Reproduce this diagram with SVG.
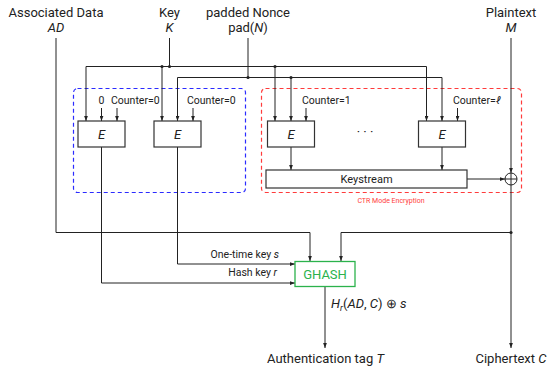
<svg xmlns="http://www.w3.org/2000/svg" width="550" height="366" viewBox="0 0 550 366">
<defs>
<marker id="arr" viewBox="0 0 8 6" refX="8" refY="3" markerWidth="5" markerHeight="4" markerUnits="userSpaceOnUse" orient="auto"><path d="M0,0 L8,3 L0,6 z" fill="#222"/></marker>
<style>
text{font-family:Roboto,"Liberation Sans",sans-serif;fill:#222}
.lbl{font-size:13px;text-anchor:middle}
.sm{font-size:10.5px}
.it{font-style:italic}
.w{fill:none;stroke:#222;stroke-width:1}
.a{marker-end:url(#arr)}
.box{fill:#fff;stroke:#333;stroke-width:1.2}
.dot{fill:#222}
</style>
</defs>
<rect width="550" height="366" fill="#fff"/>

<g id="regions">
<rect x="73.5" y="88.5" width="172" height="104" rx="4" fill="none" stroke="#2b2bff" stroke-width="1.2" stroke-dasharray="4,3"/>
<rect x="261.5" y="88.5" width="260" height="104" rx="4" fill="none" stroke="#ff3b3b" stroke-width="1.2" stroke-dasharray="4,3"/>
<text x="391" y="203" style="font-size:7px;fill:#ff3b3b" text-anchor="middle">CTR Mode Encryption</text>
</g>

<g id="inputs">
<text class="lbl" x="56" y="17">Associated Data</text>
<text class="lbl it" x="56" y="32">AD</text>
<text class="lbl" x="169.5" y="17">Key</text>
<text class="lbl it" x="169.5" y="32">K</text>
<text class="lbl" x="248" y="17">padded Nonce</text>
<text class="lbl" x="248" y="32">pad(<tspan class="it">N</tspan>)</text>
<text class="lbl" x="511" y="17">Plaintext</text>
<text class="lbl it" x="511" y="32">M</text>
</g>

<g id="connectors">
<!-- key bus -->
<path class="w" d="M169.5,38 V66.5"/>
<path class="w" d="M86,66.5 H426.5"/>
<path class="w a" d="M86,66.5 V121"/>
<path class="w a" d="M162,66.5 V121"/>
<path class="w a" d="M275,66.5 V121"/>
<path class="w a" d="M426.5,66.5 V121"/>
<!-- nonce bus -->
<path class="w" d="M248,38 V77.5"/>
<path class="w" d="M177.5,77.5 H442"/>
<path class="w a" d="M177.5,77.5 V121"/>
<path class="w a" d="M291,77.5 V121"/>
<path class="w a" d="M442,77.5 V121"/>
<!-- counters -->
<path class="w a" d="M101.5,108 V121"/>
<path class="w a" d="M117,108 V121"/>
<path class="w a" d="M193,108 V121"/>
<path class="w a" d="M306,108 V121"/>
<path class="w a" d="M457.5,108 V121"/>
<!-- E outputs to keystream -->
<path class="w a" d="M291,147 V170"/>
<path class="w a" d="M442,147 V170"/>
<!-- keystream to xor -->
<path class="w a" d="M467,179 H505"/>
<!-- plaintext to xor -->
<path class="w a" d="M511,38 V173"/>
<!-- ciphertext -->
<path class="w a" d="M511,185 V348"/>
<!-- AD to GHASH -->
<path class="w a" d="M56,38 V232.5 H310 V261"/>
<!-- C to GHASH -->
<path class="w a" d="M511,232.5 H341 V261"/>
<!-- one-time key s -->
<path class="w a" d="M177.5,147 V264 H295"/>
<!-- hash key r -->
<path class="w a" d="M101.5,147 V283 H295"/>
<!-- tag -->
<path class="w a" d="M325,286 V348"/>
<circle class="dot" cx="162" cy="66.5" r="1.6"/>
<circle class="dot" cx="169.5" cy="66.5" r="1.6"/>
<circle class="dot" cx="275" cy="66.5" r="1.6"/>
<circle class="dot" cx="248" cy="77.5" r="1.6"/>
<circle class="dot" cx="291" cy="77.5" r="1.6"/>
<circle class="dot" cx="511" cy="232.5" r="1.6"/>
<text class="sm" x="101.5" y="104" text-anchor="middle">0</text>
<text class="sm" x="111" y="104">Counter=0</text>
<text class="sm" x="187" y="104">Counter=0</text>
<text class="sm" x="302" y="104">Counter=1</text>
<text class="sm" x="453" y="104">Counter=<tspan class="it">ℓ</tspan></text>
<text class="sm" x="279" y="258" text-anchor="end">One-time key <tspan class="it">s</tspan></text>
<text class="sm" x="277" y="276" text-anchor="end">Hash key <tspan class="it">r</tspan></text>
<text x="331" y="308" style="font-size:13px"><tspan class="it">H</tspan><tspan class="it" style="font-size:9px" dy="3">r</tspan><tspan dy="-3">(</tspan><tspan class="it">AD</tspan>, <tspan class="it">C</tspan>) ⊕ <tspan class="it">s</tspan></text>
</g>

<g id="E1"><rect class="box" x="78" y="121" width="47" height="26"/><text class="lbl it" x="101.5" y="139">E</text></g>
<g id="E2"><rect class="box" x="154" y="121" width="47" height="26"/><text class="lbl it" x="177.5" y="139">E</text></g>
<g id="E3"><rect class="box" x="267.5" y="121" width="47" height="26"/><text class="lbl it" x="291" y="139">E</text></g>
<g id="dots"><text class="lbl" x="365" y="136">· · ·</text></g>
<g id="El"><rect class="box" x="418.5" y="121" width="47" height="26"/><text class="lbl it" x="442" y="139">E</text></g>
<g id="keystream"><rect class="box" x="266" y="170" width="201" height="18"/><text x="366.5" y="182.5" style="font-size:11px" text-anchor="middle">Keystream</text></g>
<g id="xor"><circle cx="511" cy="179" r="6" fill="#fff" stroke="#222" stroke-width="1"/><path class="w" d="M505,179 H517 M511,173 V185"/></g>
<g id="ghash"><rect x="295" y="261.5" width="60" height="25" fill="#fff" stroke="#2bb24c" stroke-width="1.3"/><text x="325" y="278.5" style="font-size:13px;fill:#2bb24c" text-anchor="middle">GHASH</text></g>

<g id="outputs">
<text class="lbl" x="325.5" y="363">Authentication tag <tspan class="it">T</tspan></text>
<text class="lbl" x="511" y="363">Ciphertext <tspan class="it">C</tspan></text>
</g>
</svg>
